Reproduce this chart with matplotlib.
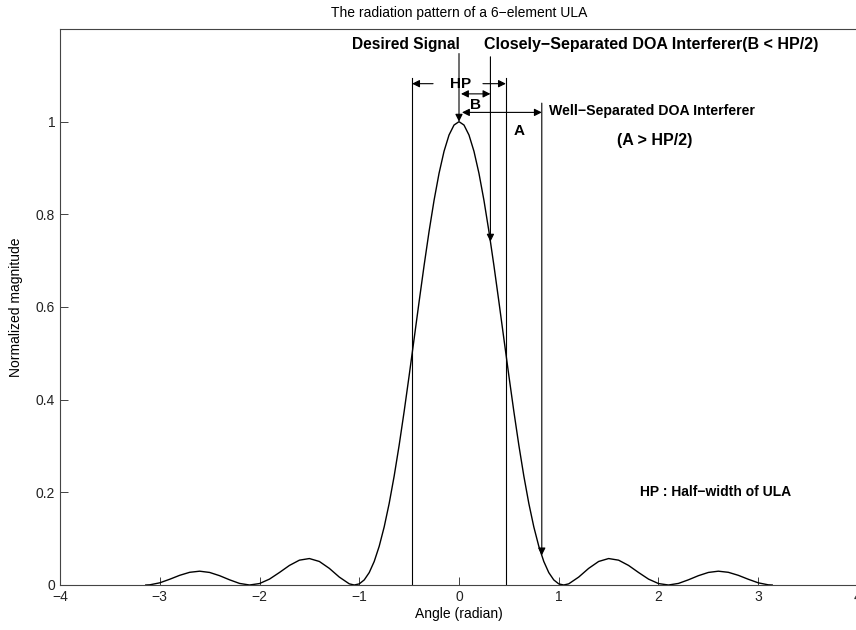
import numpy as np
import matplotlib.pyplot as plt

plt.rcParams['font.family'] = ['Liberation Sans', 'DejaVu Sans']

# normalized power pattern, right half (symmetric about 0)
ang_half = [0.0, 0.05, 0.1, 0.15, 0.2, 0.25, 0.3, 0.35, 0.4, 0.45, 0.5,
            0.55, 0.6, 0.65, 0.7, 0.75, 0.8, 0.85, 0.9, 0.95, 1.0, 1.05,
            1.1, 1.2, 1.3, 1.4, 1.5, 1.6, 1.7, 1.8, 1.9, 2.0,
            2.1, 2.2, 2.3, 2.4, 2.5, 2.6, 2.7, 2.8, 2.9, 3.0, 3.1, 3.14]
mag_half = [1.0, 0.9927, 0.9712, 0.9361, 0.8886, 0.8303, 0.7632, 0.6895, 0.6114, 0.5313, 0.4516,
            0.3744, 0.3017, 0.2351, 0.1760, 0.1254, 0.0836, 0.0508, 0.0268, 0.0110, 0.0024, 0.0,
            0.0025, 0.0171, 0.0359, 0.0508, 0.0571, 0.0536, 0.0422, 0.0270, 0.0127, 0.0031,
            0.0, 0.0034, 0.0112, 0.0201, 0.0271, 0.0298, 0.0274, 0.0209, 0.0124, 0.0047, 0.0004, 0.0]

hp_edges = [-0.47, 0.47]      # half-power points
close_doa = 0.315             # closely separated interferer
well_doa = 0.83               # well separated interferer

ang_half = np.array(ang_half)
mag_half = np.array(mag_half)
ang = np.concatenate([-ang_half[::-1], ang_half[1:]])
mag = np.concatenate([mag_half[::-1], mag_half[1:]])

fig = plt.figure(figsize=(8.56, 6.3), dpi=100)
ax = fig.add_axes([60/856, 45/630, 798/856, 556/630])

ax.plot(ang, mag, color='k', lw=1.0)

for xv in hp_edges:
    ax.plot([xv, xv], [0, 1.095], color='k', lw=0.8)

arr = dict(arrowstyle='-|>', mutation_scale=11, lw=0.8, color='k', shrinkA=0, shrinkB=0)
dbl = dict(arrowstyle='<|-|>', mutation_scale=11, lw=0.8, color='k', shrinkA=0, shrinkB=0)

# desired signal
ax.annotate('', xy=(0, 1.0), xytext=(0, 1.147), arrowprops=arr)
# closely separated interferer
close_mag = np.interp(close_doa, ang, mag)
ax.annotate('', xy=(close_doa, close_mag), xytext=(close_doa, 1.14), arrowprops=arr)
# well separated interferer
well_mag = np.interp(well_doa, ang, mag)
ax.annotate('', xy=(well_doa, well_mag), xytext=(well_doa, 1.04), arrowprops=arr)

# HP arrows
ax.annotate('', xy=(hp_edges[0], 1.082), xytext=(-0.26, 1.082), arrowprops=arr)
ax.annotate('', xy=(hp_edges[1], 1.082), xytext=(0.24, 1.082), arrowprops=arr)
# B and A
ax.annotate('', xy=(0.02, 1.06), xytext=(close_doa, 1.06), arrowprops=dbl)
ax.annotate('', xy=(0.03, 1.02), xytext=(well_doa, 1.02), arrowprops=dbl)

ax.text(0.02, 1.082, 'HP', ha='center', va='center', fontsize=11, fontweight='bold')
ax.text(0.17, 1.035, 'B', ha='center', va='center', fontsize=11, fontweight='bold')
ax.text(0.6, 0.98, 'A', ha='center', va='center', fontsize=11, fontweight='bold')
ax.text(-0.53, 1.166, 'Desired Signal', ha='center', va='center', fontsize=11.2, fontweight='bold')
ax.text(0.25, 1.166, 'Closely\u2212Separated DOA Interferer(B < HP/2)', ha='left', va='center',
        fontsize=11.5, fontweight='bold')
ax.text(0.90, 1.024, 'Well\u2212Separated DOA Interferer', ha='left', va='center',
        fontsize=10.2, fontweight='bold')
ax.text(1.58, 0.959, '(A > HP/2)', ha='left', va='center', fontsize=11.5, fontweight='bold')
ax.text(1.81, 0.2, 'HP : Half\u2212width of ULA', ha='left', va='center', fontsize=10, fontweight='bold')

ax.set_xlim(-4, 4)
ax.set_ylim(0, 1.2)
ax.set_xticks(np.arange(-4, 5, 1))
ax.set_yticks([0, 0.2, 0.4, 0.6, 0.8, 1])
ax.set_yticklabels(['0', '0.2', '0.4', '0.6', '0.8', '1'])
ax.tick_params(direction='in', length=5.5, width=0.6, labelsize=10, colors='#222222')
for s in ax.spines.values():
    s.set_linewidth(0.8)
    s.set_color('#444444')

ax.set_title('The radiation pattern of a 6\u2212element ULA', fontsize=10, pad=9)
ax.set_xlabel('Angle (radian)', fontsize=10, labelpad=2)
ax.set_ylabel('Normalized magnitude', fontsize=10, labelpad=9)

plt.savefig('out.png', dpi=100)
